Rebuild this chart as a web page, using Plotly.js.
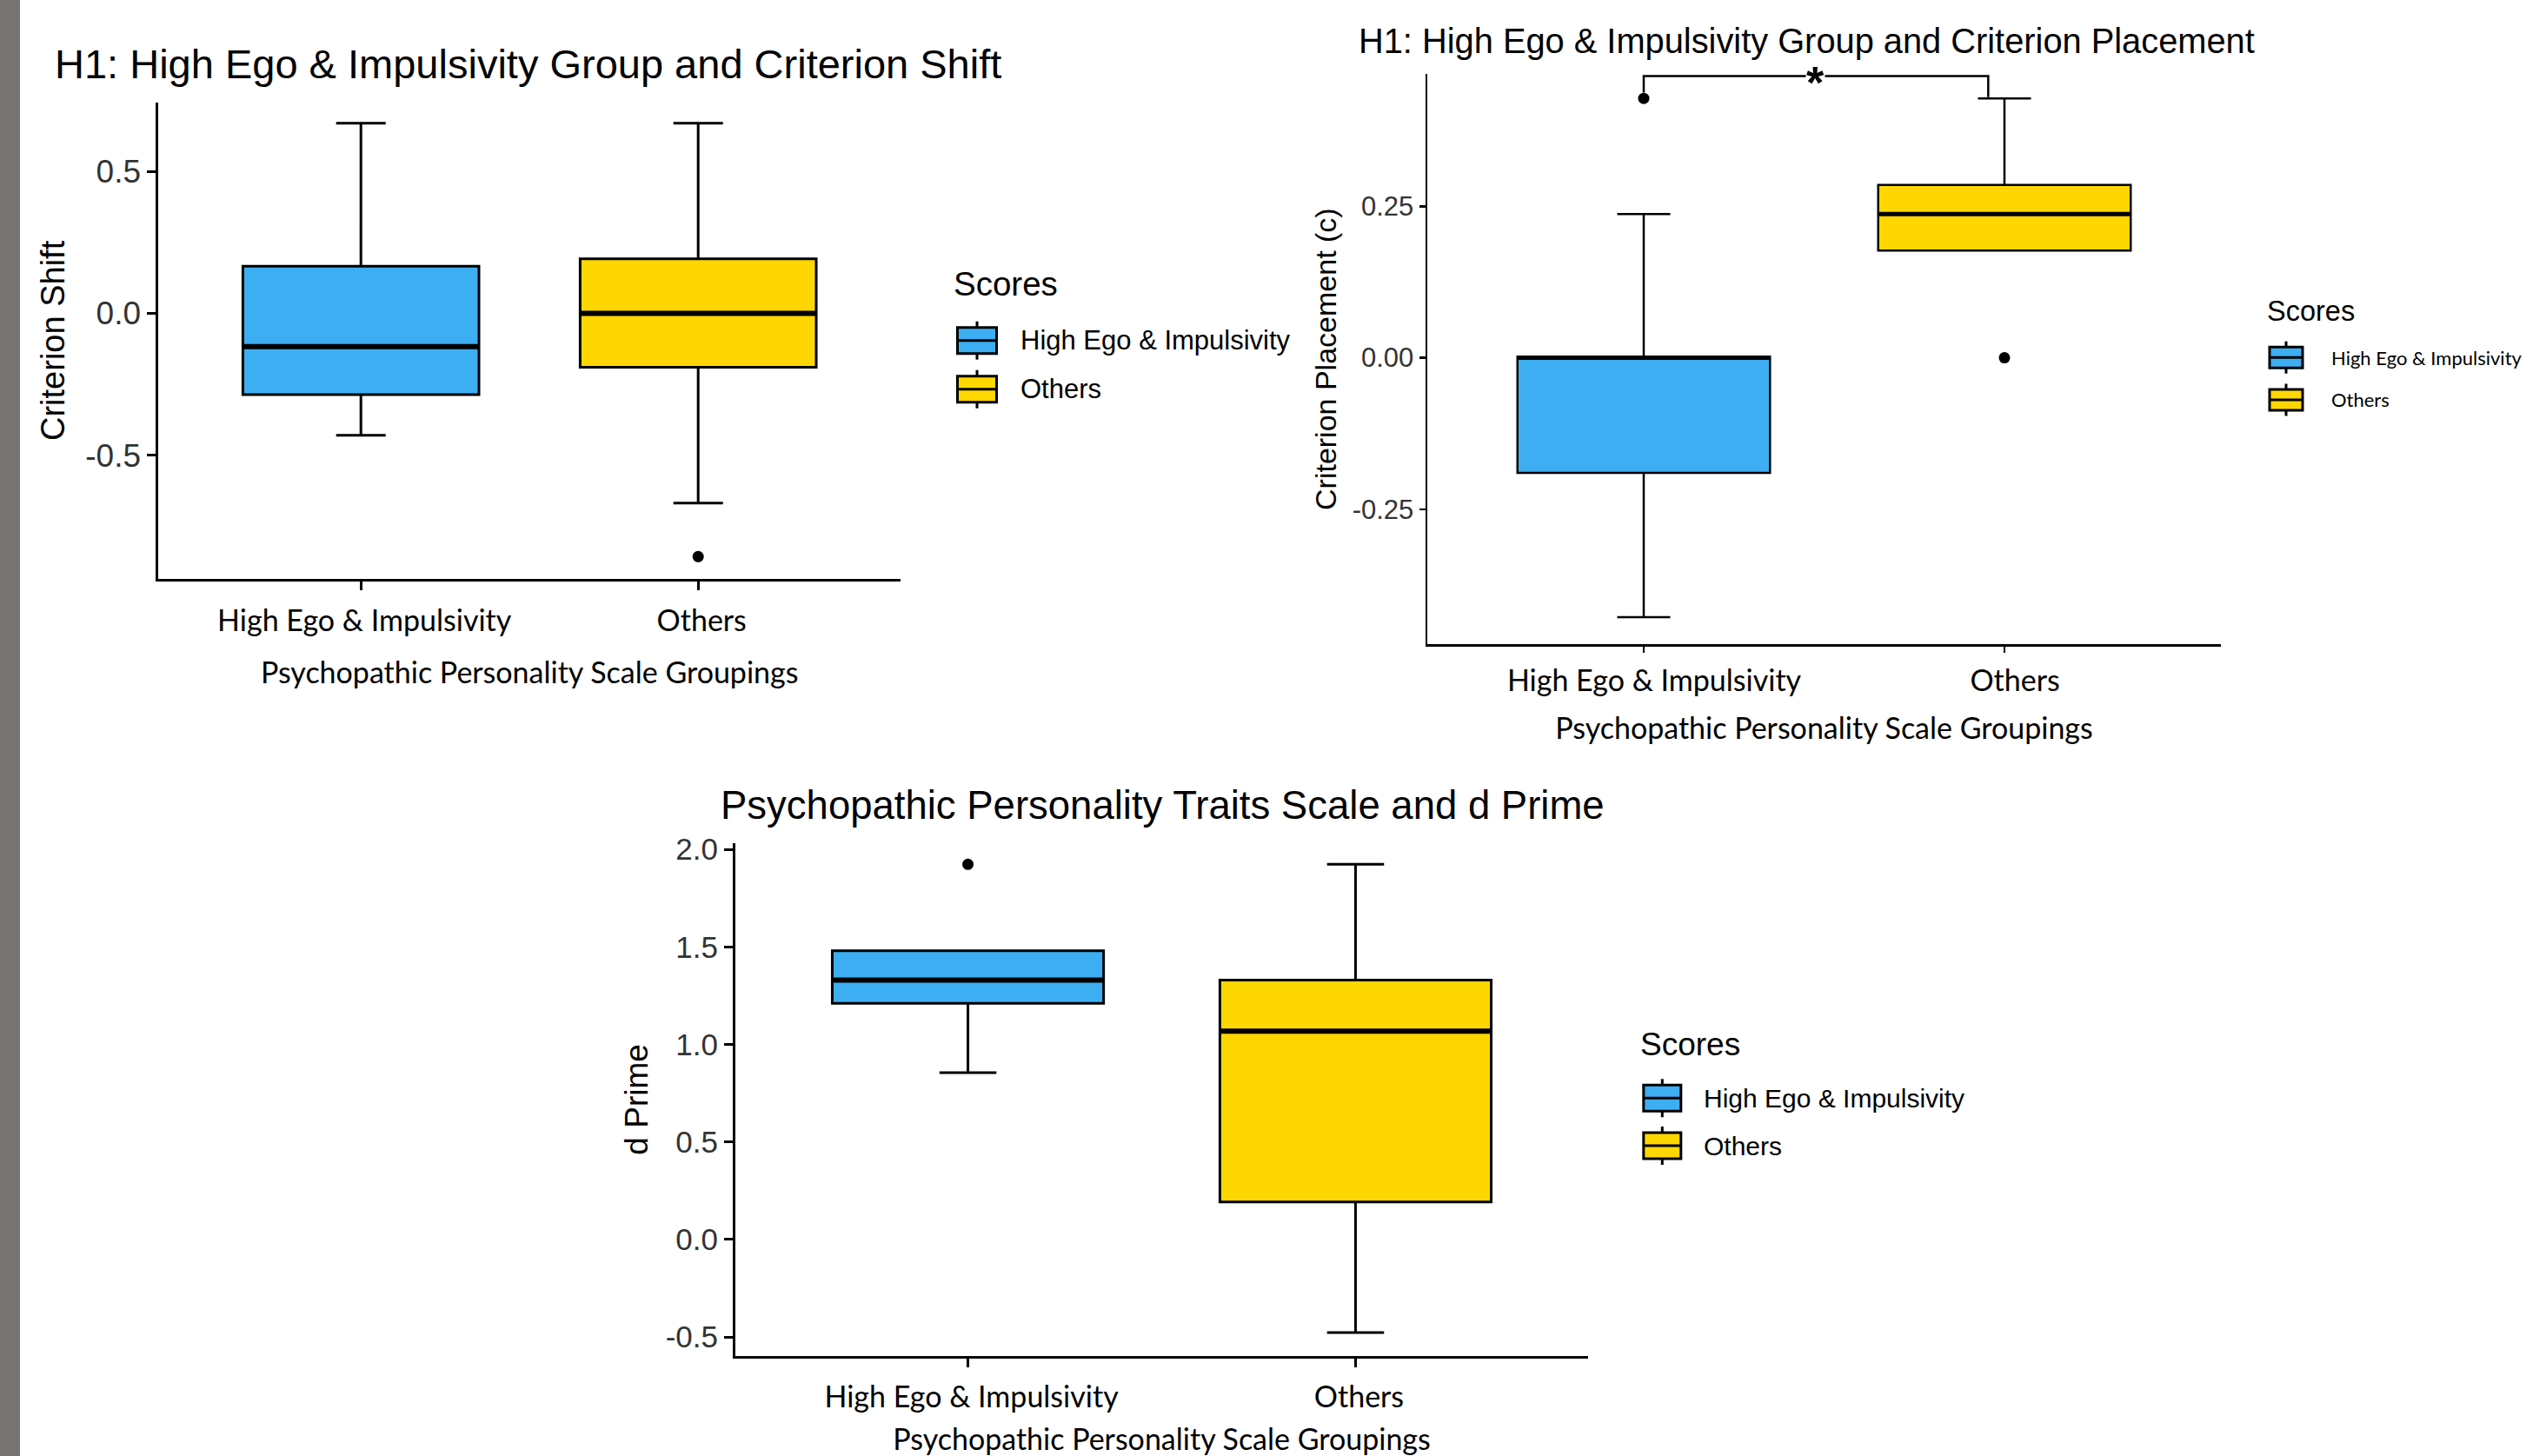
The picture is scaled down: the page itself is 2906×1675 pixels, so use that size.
<!DOCTYPE html>
<html>
<head>
<meta charset="utf-8">
<script src="https://cdn.plot.ly/plotly-3.0.1.min.js"></script>
<style>
  html, body { margin: 0; padding: 0; background: #ffffff; }
  #chart { width: 2906px; height: 1675px; }
</style>
</head>
<body>
<div id="chart"></div>
<script>
// ---------------- DATA ----------------
const groups = ["High Ego & Impulsivity", "Others"];
const legendTitle = "Scores";
const xAxisTitle = "Psychopathic Personality Scale Groupings";

// Panel 1: Criterion Shift
const shiftTitle = "H1: High Ego & Impulsivity Group and Criterion Shift";
const shiftYTitle = "Criterion Shift";
const shiftLow  = [-0.429, -0.668];
const shiftQ1   = [-0.286, -0.190];
const shiftMed  = [-0.117,  0.000];
const shiftQ3   = [ 0.166,  0.192];
const shiftHigh = [ 0.669,  0.669];
const shiftOutGroups = ["Others"];
const shiftOutValues = [-0.856];
const shiftTickVals = [-0.5, 0, 0.5];
const shiftTickText = ["-0.5", "0.0", "0.5"];

// Panel 2: Criterion Placement
const placeTitle = "H1: High Ego & Impulsivity Group and Criterion Placement";
const placeYTitle = "Criterion Placement (c)";
const placeLow  = [-0.428, 0.177];
const placeQ1   = [-0.190, 0.177];
const placeMed  = [ 0.000, 0.237];
const placeQ3   = [ 0.002, 0.285];
const placeHigh = [ 0.237, 0.428];
const placeOutGroups = ["High Ego & Impulsivity", "Others"];
const placeOutValues = [0.428, 0.000];
const placeTickVals = [-0.25, 0, 0.25];
const placeTickText = ["-0.25", "0.00", "0.25"];
const sigLabel = "*";
const sigBracketY = 0.465;
const sigLeftEnd = 0.4375;
const sigRightEnd = 0.430;

// Panel 3: d Prime
const dpTitle = "Psychopathic Personality Traits Scale and d Prime";
const dpYTitle = "d Prime";
const dpLow  = [0.855, -0.477];
const dpQ1   = [1.211,  0.192];
const dpMed  = [1.330,  1.068];
const dpQ3   = [1.480,  1.330];
const dpHigh = [1.480,  1.923];
const dpOutGroups = ["High Ego & Impulsivity"];
const dpOutValues = [1.923];
const dpTickVals = [-0.5, 0, 0.5, 1, 1.5, 2];
const dpTickText = ["-0.5", "0.0", "0.5", "1.0", "1.5", "2.0"];

// ---------------- STYLE / LAYOUT ----------------
const W = 2906, H = 1675;
const px = v => v / W;
const py = v => 1 - v / H;
const fills = ["#3DAEF2", "#FFD700"];
const ARIAL = "Liberation Sans, Arial, sans-serif";
const CAL = "Lato, Carlito, Calibri, sans-serif";
const BOXW = 0.7;

const panels = [
  { id: "", title: shiftTitle, ytitle: shiftYTitle,
    low: shiftLow, q1: shiftQ1, med: shiftMed, q3: shiftQ3, high: shiftHigh,
    outG: shiftOutGroups, outV: shiftOutValues, tv: shiftTickVals, tt: shiftTickText,
    xpx: [182.4, 1036], ypx: [118, 665.8], range: [-0.934, 0.742],
    lw: 3, medW: 6, tickFont: 37, ytFont: 38, xtFont: 34, ticklen: 10,
    titleFont: 47, titlePos: [61, 73],
    xlabStand: 6, xlabShift: 4, xTitleStand: 31, yTitleStand: 12,
    legend: { tx: 1095, ty: 326, tsize: 38.5, tfont: ARIAL,
              kcx: 1124, kw: 45, kh: 30, wh: 7, rows: [391.7, 447.7],
              lx: 1172, lsize: 31, lfont: ARIAL } },
  { id: "2", title: placeTitle, ytitle: placeYTitle,
    low: placeLow, q1: placeQ1, med: placeMed, q3: placeQ3, high: placeHigh,
    outG: placeOutGroups, outV: placeOutValues, tv: placeTickVals, tt: placeTickText,
    xpx: [1642, 2555], ypx: [85.3, 741], range: [-0.4726, 0.468],
    lw: 2.5, medW: 5, tickFont: 31, ytFont: 34, xtFont: 34, ticklen: 7,
    titleFont: 39.8, titlePos: [1561, 47],
    xlabStand: 4, xlabShift: 12, xTitleStand: 25, yTitleStand: 8,
    legend: { tx: 2606, ty: 357.5, tsize: 32.5, tfont: ARIAL,
              kcx: 2630, kw: 38, kh: 24, wh: 6.5, rows: [411.2, 460],
              lx: 2680, lsize: 22, lfont: CAL } },
  { id: "3", title: dpTitle, ytitle: dpYTitle,
    low: dpLow, q1: dpQ1, med: dpMed, q3: dpQ3, high: dpHigh,
    outG: dpOutGroups, outV: dpOutValues, tv: dpTickVals, tt: dpTickText,
    xpx: [846, 1827], ypx: [970.3, 1559.5], range: [-0.595, 2.03],
    lw: 3, medW: 6, tickFont: 35, ytFont: 37, xtFont: 34, ticklen: 10,
    titleFont: 45.5, titlePos: [827, 926],
    xlabStand: 6, xlabShift: 4, xTitleStand: 20, yTitleStand: 9,
    legend: { tx: 1885, ty: 1201.7, tsize: 37, tfont: ARIAL,
              kcx: 1912.3, kw: 43, kh: 30, wh: 7, rows: [1263.3, 1318],
              lx: 1958, lsize: 30, lfont: ARIAL } }
];

const traces = [];
const shapes = [];
const annotations = [];
const layout = {
  width: W, height: H,
  margin: { l: 0, r: 0, t: 0, b: 0, pad: 0 },
  paper_bgcolor: "#ffffff", plot_bgcolor: "#ffffff",
  showlegend: false,
  boxmode: "overlay",
  font: { family: ARIAL, color: "#000000" },
  shapes: shapes, annotations: annotations
};

// grey strip on the left edge of the picture
shapes.push({ type: "rect", xref: "paper", yref: "paper",
  x0: 0, x1: px(23), y0: 0, y1: 1, fillcolor: "#777373", line: { width: 0 }, layer: "below" });

panels.forEach(p => {
  const xa = "x" + p.id, ya = "y" + p.id;
  const xKey = "xaxis" + p.id, yKey = "yaxis" + p.id;

  groups.forEach((g, i) => {
    traces.push({
      type: "box", name: g, xaxis: xa, yaxis: ya,
      x: [g], q1: [p.q1[i]], median: [p.med[i]], q3: [p.q3[i]],
      lowerfence: [p.low[i]], upperfence: [p.high[i]],
      width: BOXW, whiskerwidth: 0.21, boxpoints: false,
      fillcolor: fills[i], line: { color: "#000000", width: p.lw },
      hoverinfo: "skip", showlegend: false
    });
    // thick median bar (ggplot fatten)
    shapes.push({ type: "line", xref: xa, yref: ya,
      x0: i - BOXW / 2, x1: i + BOXW / 2, y0: p.med[i], y1: p.med[i],
      line: { color: "#000000", width: p.medW } });
  });

  traces.push({
    type: "scatter", mode: "markers", xaxis: xa, yaxis: ya,
    x: p.outG, y: p.outV,
    marker: { color: "#000000", size: 13 },
    hoverinfo: "skip", showlegend: false, cliponaxis: false
  });

  layout[xKey] = {
    domain: [px(p.xpx[0]), px(p.xpx[1])], anchor: ya,
    type: "category", categoryorder: "array", categoryarray: groups,
    range: [-0.6, 1.6], fixedrange: true,
    showline: true, linecolor: "#000000", linewidth: p.lw,
    ticks: "outside", ticklen: p.ticklen, tickwidth: p.lw, tickcolor: "#000000",
    tickfont: { family: CAL, size: p.xtFont, color: "#000000" },
    ticklabelstandoff: p.xlabStand, ticklabelshift: p.xlabShift,
    showgrid: false, zeroline: false,
    title: { text: xAxisTitle, font: { family: CAL, size: p.xtFont, color: "#000000" },
             standoff: p.xTitleStand }
  };
  layout[yKey] = {
    domain: [py(p.ypx[1]), py(p.ypx[0])], anchor: xa,
    range: p.range, fixedrange: true,
    tickmode: "array", tickvals: p.tv, ticktext: p.tt,
    showline: true, linecolor: "#000000", linewidth: p.lw,
    ticks: "outside", ticklen: p.ticklen, tickwidth: p.lw, tickcolor: "#000000",
    tickfont: { family: ARIAL, size: p.tickFont, color: "#333333" },
    showgrid: false, zeroline: false,
    title: { text: p.ytitle, font: { family: ARIAL, size: p.ytFont, color: "#000000" },
             standoff: p.yTitleStand }
  };

  // panel title
  annotations.push({ xref: "paper", yref: "paper",
    x: px(p.titlePos[0]), y: py(p.titlePos[1]), xanchor: "left", yanchor: "middle",
    text: p.title, showarrow: false,
    font: { family: ARIAL, size: p.titleFont, color: "#000000" } });

  // legend (ggplot-style keys)
  const L = p.legend;
  annotations.push({ xref: "paper", yref: "paper",
    x: px(L.tx), y: py(L.ty), xanchor: "left", yanchor: "middle",
    text: legendTitle, showarrow: false,
    font: { family: L.tfont, size: L.tsize, color: "#000000" } });
  groups.forEach((g, i) => {
    const cy = L.rows[i];
    shapes.push({ type: "line", xref: "paper", yref: "paper",
      x0: px(L.kcx), x1: px(L.kcx), y0: py(cy - L.kh / 2 - L.wh), y1: py(cy + L.kh / 2 + L.wh),
      line: { color: "#000000", width: 3 } });
    shapes.push({ type: "rect", xref: "paper", yref: "paper",
      x0: px(L.kcx - L.kw / 2), x1: px(L.kcx + L.kw / 2),
      y0: py(cy + L.kh / 2), y1: py(cy - L.kh / 2),
      fillcolor: fills[i], line: { color: "#000000", width: 3 } });
    shapes.push({ type: "line", xref: "paper", yref: "paper",
      x0: px(L.kcx - L.kw / 2), x1: px(L.kcx + L.kw / 2), y0: py(cy), y1: py(cy),
      line: { color: "#000000", width: 3 } });
    annotations.push({ xref: "paper", yref: "paper",
      x: px(L.lx), y: py(cy), xanchor: "left", yanchor: "middle",
      text: g, showarrow: false,
      font: { family: L.lfont, size: L.lsize, color: "#000000" } });
  });
});

// significance bracket on panel 2
shapes.push({ type: "path", xref: "x2", yref: "y2",
  path: `M 0,${sigLeftEnd} L 0,${sigBracketY} L 0.955,${sigBracketY} L 0.955,${sigRightEnd}`,
  line: { color: "#000000", width: 2.5 } });
annotations.push({ xref: "x2", yref: "y2", x: 0.475, y: sigBracketY,
  xanchor: "center", yanchor: "middle", yshift: -8,
  text: "<b>" + sigLabel + "</b>", showarrow: false, bgcolor: "#ffffff", borderpad: 0,
  font: { family: ARIAL, size: 52, color: "#000000" } });

Plotly.newPlot("chart", traces, layout, { staticPlot: true, displayModeBar: false });
</script>
</body>
</html>
